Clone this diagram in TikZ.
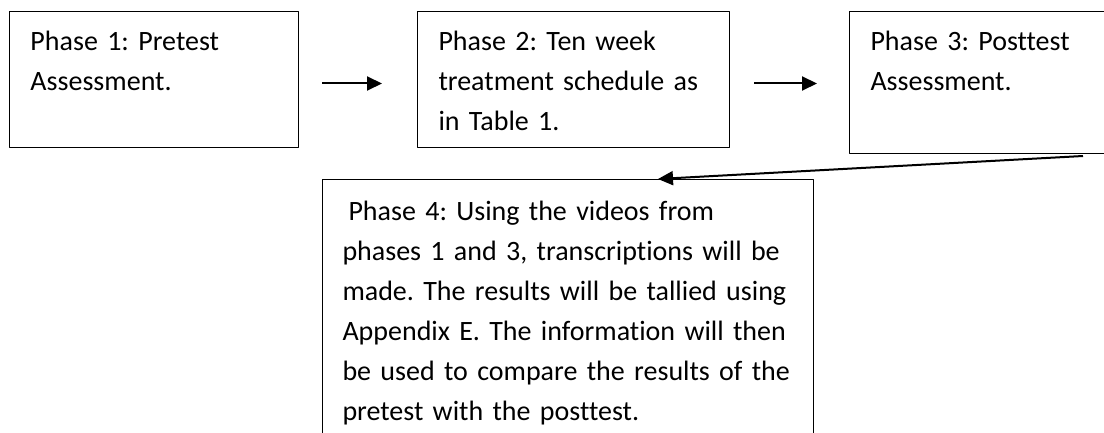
\documentclass[tikz,border=0pt]{standalone}
\usepackage{fontspec}
\setmainfont{Carlito}[Ligatures=NoCommon]
\usetikzlibrary{arrows.meta}

\tikzset{
  phasebox/.style={draw, line width=0.5pt, anchor=north west, align=left,
    inner xsep=10.5pt, inner ysep=0pt, text height=19.5pt,
    font=\fontsize{14}{20}\selectfont\frenchspacing},
  flow/.style={-{Triangle[length=7.5pt,width=7pt]}, line width=1pt}
}

\begin{document}
\begin{tikzpicture}[x=0.5pt, y=-0.5pt, line join=round]
	\useasboundingbox (0,0) rectangle (1104,433);
	\clip (0,0) rectangle (1104,433);
	% the four phases
	\node[phasebox, text width=123.5pt, text depth=48.5pt] (p1) at (9,11)
		{Phase 1: Pretest\\Assessment.};
	\node[phasebox, text width=135pt, text depth=48.5pt] (p2) at (417,11)
		{Phase 2: Ten week\\treatment schedule as\\in Table 1.};
	\node[phasebox, text width=114pt, text depth=51.5pt] (p3) at (849,11)
		{Phase 3: Posttest\\Assessment.};
	\node[phasebox, inner xsep=10pt, text width=225.5pt, text height=20.5pt, text depth=112.5pt] (p4) at (322,179)
		{\hspace*{3pt}Phase 4: Using the videos from\\
		phases 1 and 3, transcriptions will be\\
		made. The results will be tallied using\\
		Appendix E. The information will then\\
		be used to compare the results of the\\
		pretest with the posttest.};
	% arrows
	\draw[flow, shorten <=11.5pt, shorten >=17.5pt] ([yshift=-2pt]p1.east) -- ([yshift=-2pt]p2.west);
	\draw[flow, shorten <=12pt, shorten >=16pt] ([yshift=-2pt]p2.east) -- ([yshift=-0.5pt]p3.west);
	\draw[flow] ([xshift=117pt, yshift=-1pt]p3.south west) -- ([xshift=168pt]p4.north west);
\end{tikzpicture}
\end{document}
